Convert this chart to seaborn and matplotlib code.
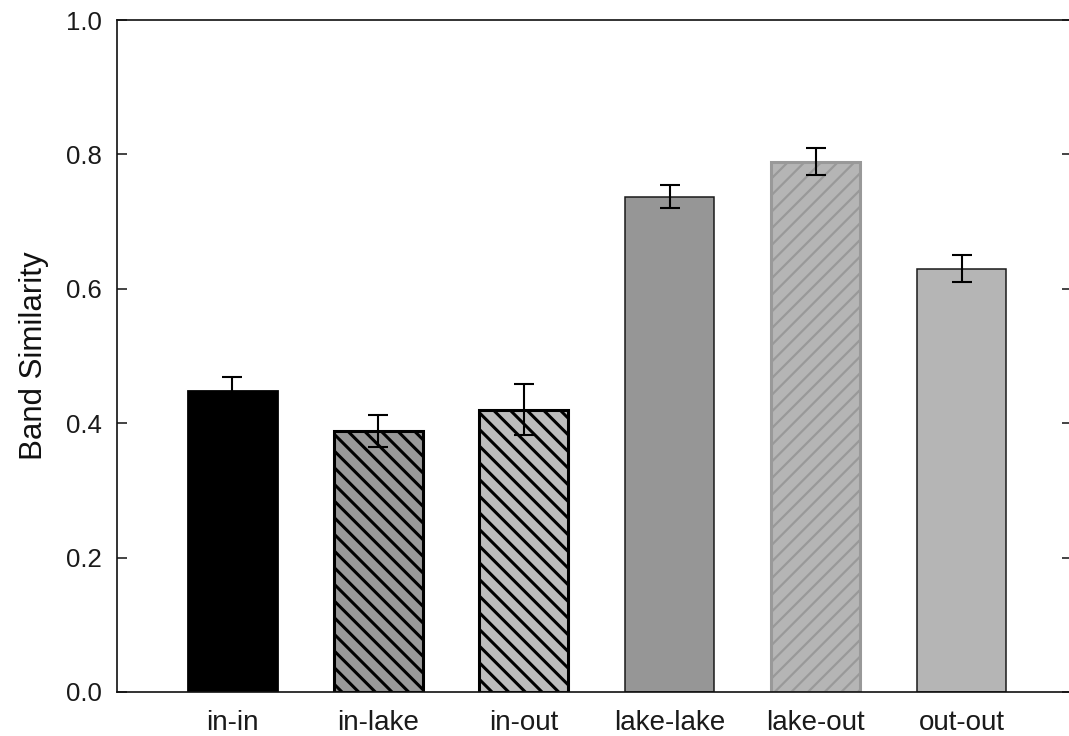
import matplotlib
matplotlib.use("Agg")
import matplotlib.pyplot as plt
import seaborn as sns
import pandas as pd

# Mean band similarity per site pairing, with standard errors
pairs = ["in-in", "in-lake", "in-out", "lake-lake", "lake-out", "out-out"]
similarity = [0.448, 0.388, 0.420, 0.737, 0.789, 0.630]
std_err = [0.021, 0.024, 0.038, 0.017, 0.020, 0.020]

# Bar styling per pairing
fills = ["#000000", "#999999", "#bdbdbd", "#969696", "#b5b5b5", "#b5b5b5"]
edges = ["#000000", "#000000", "#000000", "#1a1a1a", "#999999", "#1a1a1a"]
edge_widths = [2.0, 2.2, 2.2, 1.1, 2.2, 1.1]
hatches = ["", "\\\\", "\\\\", "", "//", ""]
hatch_widths = [1.0, 2.2, 2.2, 1.0, 1.6, 1.0]

sns.set_theme(style="white")
plt.rcParams["font.family"] = ["Liberation Sans", "DejaVu Sans"]
plt.rcParams["hatch.linewidth"] = 2.2

df = pd.DataFrame({"pair": pairs, "similarity": similarity})

fig = plt.figure(figsize=(10.69, 7.36), dpi=100)
ax = fig.add_axes([0.1094, 0.0598, 0.8938, 0.913])

sns.barplot(data=df, x="pair", y="similarity", order=pairs, width=0.61,
            errorbar=None, color="#999999", ax=ax, zorder=2)

for patch, fc, ec, lw, h, hw in zip(ax.patches, fills, edges, edge_widths,
                                    hatches, hatch_widths):
    patch.set_facecolor(fc)
    patch.set_edgecolor(ec)
    patch.set_linewidth(lw)
    patch.set_hatch(h)
    if hasattr(patch, "set_hatch_linewidth"):
        patch.set_hatch_linewidth(hw)

ax.errorbar(x=range(len(pairs)), y=similarity, yerr=std_err, fmt="none",
            ecolor="black", elinewidth=1.5, capsize=7.2, capthick=1.5,
            zorder=3)

ax.set_xlim(-0.79, 5.76)
ax.set_ylim(0, 1.0)
ax.set_yticks([0.0, 0.2, 0.4, 0.6, 0.8, 1.0])
ax.set_yticklabels(["0.0", "0.2", "0.4", "0.6", "0.8", "1.0"])
ax.set_xlabel("")
ax.set_ylabel("Band Similarity", fontsize=22.5, labelpad=12, color="#111111")

for side in ["left", "bottom", "top", "right"]:
    ax.spines[side].set_visible(True)
    ax.spines[side].set_color("#111111")
    ax.spines[side].set_linewidth(1.2)

ax.tick_params(axis="y", which="both", direction="in", length=7, width=1.1,
               color="#111111", labelsize=18.5, pad=11, left=True, right=True,
               labelcolor="#1a1a1a")
ax.tick_params(axis="x", length=0, labelsize=20, pad=13,
               labelcolor="#1a1a1a")

fig.savefig("out.png", dpi=100, facecolor="white")
